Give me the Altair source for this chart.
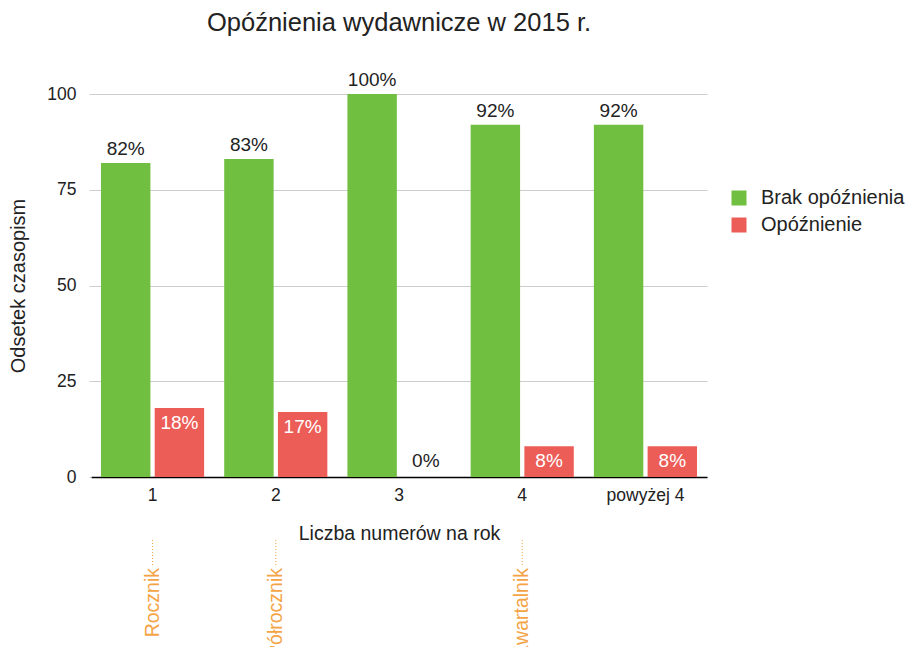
import altair as alt
import pandas as pd

categories = ["1", "2", "3", "4", "powyżej 4"]
series = ["Brak opóźnienia", "Opóźnienie"]
brak = [82, 83, 100, 92, 92]
opoz = [18, 17, 0, 8, 8]
ann_cats = ["1", "2", "4"]
ann_labels = ["Rocznik", "Półrocznik", "Kwartalnik"]
colors = ["#70BF41", "#EC5D57"]
orange = "#F5A445"

rows = []
for c, b, o in zip(categories, brak, opoz):
    rows.append(dict(kat=c, seria=series[0], val=b, label=f"{b}%"))
    rows.append(dict(kat=c, seria=series[1], val=o, label=f"{o}%"))
df = pd.DataFrame(rows)
ann = pd.DataFrame({"kat": ann_cats, "label": ann_labels})

FONT = "Liberation Sans"
W, H = 616, 383

xscale = alt.Scale(domain=categories, paddingInner=0.163, paddingOuter=0.081)
x = alt.X("kat:N", scale=xscale, sort=categories,
          axis=alt.Axis(title="Liczba numerów na rok", labelAngle=0, ticks=False,
                        domainColor="black", domainWidth=1.5, labelFontSize=17.5,
                        titleFontSize=19.5, labelPadding=9, titlePadding=21,
                        labelColor="#222", titleColor="#222", titleFontWeight="normal",
                        labelFont=FONT, titleFont=FONT))
y = alt.Y("val:Q", scale=alt.Scale(domain=[0, 100]),
          axis=alt.Axis(title="Odsetek czasopism", values=[0, 25, 50, 75, 100],
                        domain=False, tickSize=2, tickColor="#ccc", gridColor="#ccc",
                        labelFontSize=17.5, titleFontSize=20, labelPadding=13,
                        titlePadding=18, labelColor="#222", titleColor="#222",
                        titleFontWeight="normal", labelFont=FONT, titleFont=FONT))
xoff = alt.XOffset("seria:N", sort=series, scale=alt.Scale(paddingInner=0.08))

base = alt.Chart(df)
bars = base.mark_bar().encode(
    x=x, y=y, xOffset=xoff,
    color=alt.Color("seria:N", sort=series,
                    scale=alt.Scale(domain=series, range=colors),
                    legend=alt.Legend(title=None, orient="none", legendX=638, legendY=94,
                                      symbolType="square", symbolSize=225,
                                      symbolStrokeWidth=0, labelFontSize=20,
                                      labelFont=FONT, labelColor="#222",
                                      rowPadding=7, labelOffset=12)),
)

txt_green = base.transform_filter(alt.datum.seria == series[0]).mark_text(
    dy=-14, fontSize=19, font=FONT, color="#222", baseline="middle"
).encode(x=x, y=y, xOffset=xoff, text="label:N")

txt_red = base.transform_filter(
    (alt.datum.seria == series[1]) & (alt.datum.val > 0)
).mark_text(dy=15, fontSize=19, font=FONT, color="white", baseline="middle").encode(
    x=x, y=y, xOffset=xoff, text="label:N")

txt_zero = base.transform_filter(
    (alt.datum.seria == series[1]) & (alt.datum.val == 0)
).mark_text(dy=-16, fontSize=19, font=FONT, color="#222", baseline="middle").encode(
    x=x, y=y, xOffset=xoff, text="label:N")

ann_base = alt.Chart(ann)
ann_text = ann_base.mark_text(angle=270, align="right", baseline="middle",
                              fontSize=19.5, font=FONT, color=orange).encode(
    x=alt.X("kat:N", scale=xscale, sort=categories), y=alt.value(H + 91), text="label:N")
ann_rule = ann_base.mark_rule(color=orange, strokeDash=[1, 2], strokeWidth=1).encode(
    x=alt.X("kat:N", scale=xscale, sort=categories), y=alt.value(H + 63), y2=alt.value(H + 88))

chart = alt.layer(bars, txt_green, txt_red, txt_zero, ann_rule, ann_text).properties(
    width=W, height=H,
    title=alt.TitleParams("Opóźnienia wydawnicze w 2015 r.", fontSize=25.5, font=FONT,
                          fontWeight="normal", color="#222", anchor="middle",
                          frame="group", offset=35),
    autosize=alt.AutoSizeParams(type="none"),
    padding={"left": 83, "top": 86, "right": 202, "bottom": 170},
).configure_view(stroke=None)

chart.save("out.html", embed_options={"renderer": "svg", "actions": False})
